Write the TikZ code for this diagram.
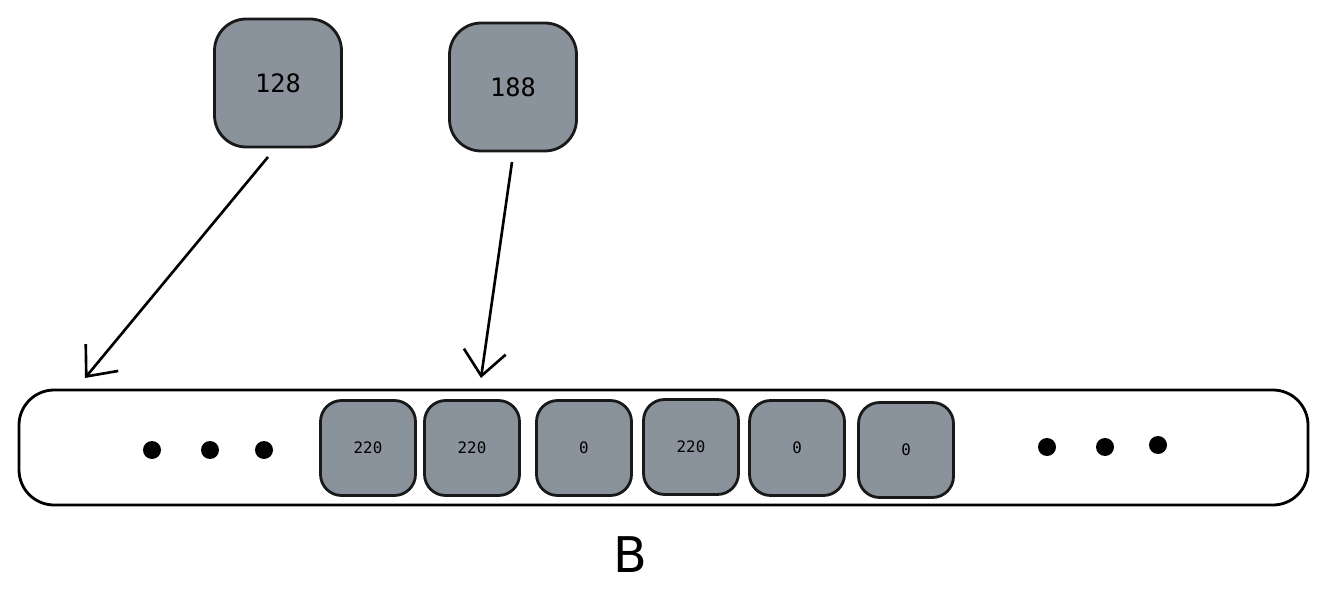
\documentclass[tikz,border=0pt]{standalone}
\usepackage{fontspec}
\setmonofont{DejaVu Sans Mono}
\setsansfont{DejaVu Sans}
\usetikzlibrary{arrows.meta}
\definecolor{cellgray}{HTML}{8A939B}
\tikzset{
  cell/.style={draw=black!90, line width=1.6pt, fill=cellgray, rounded corners=12pt,
    minimum width=1.9cm, minimum height=1.9cm, font=\ttfamily\small},
  bigcell/.style={cell, minimum width=2.54cm, minimum height=2.56cm, rounded corners=18pt, font=\ttfamily\Large},
  dot/.style={circle, fill=black, inner sep=0pt, minimum size=0.36cm},
  ptr/.style={line width=1.5pt, -{Straight Barb[length=14pt,width=24pt,line width=1.5pt]}}
}
\begin{document}
\begin{tikzpicture}[x=0.02cm,y=-0.02cm]
  \useasboundingbox (0,0) rectangle (1328,611);
  % tableau B
  \draw[line width=1.6pt, rounded corners=20pt] (19,390) rectangle (1308,505);
  \node[font=\sffamily\fontsize{28}{30}\selectfont] (lbl) at (630,555) {B};
  % cases
  \node[cell] (c1) at (368,448) {220};
  \node[cell] (c2) at (472,448) {220};
  \node[cell] (c3) at (584,448) {0};
  \node[cell] (c4) at (691,447) {220};
  \node[cell] (c5) at (797,448) {0};
  \node[cell] (c6) at (906,450) {0};
  % points de suspension
  \foreach \x/\y in {152/450,210/450,264/450,1047/447,1105/447,1158/445}
    \node[dot] at (\x,\y) {};
  % valeurs
  \node[bigcell] (a) at (278,83) {128};
  \node[bigcell] (b) at (513,87) {188};
  \coordinate (ta) at (85,378);
  \coordinate (tb) at (481,378);
  \draw[ptr] (268,157) -- (ta);
  \draw[ptr] (512,162) -- (tb);
\end{tikzpicture}
\end{document}
